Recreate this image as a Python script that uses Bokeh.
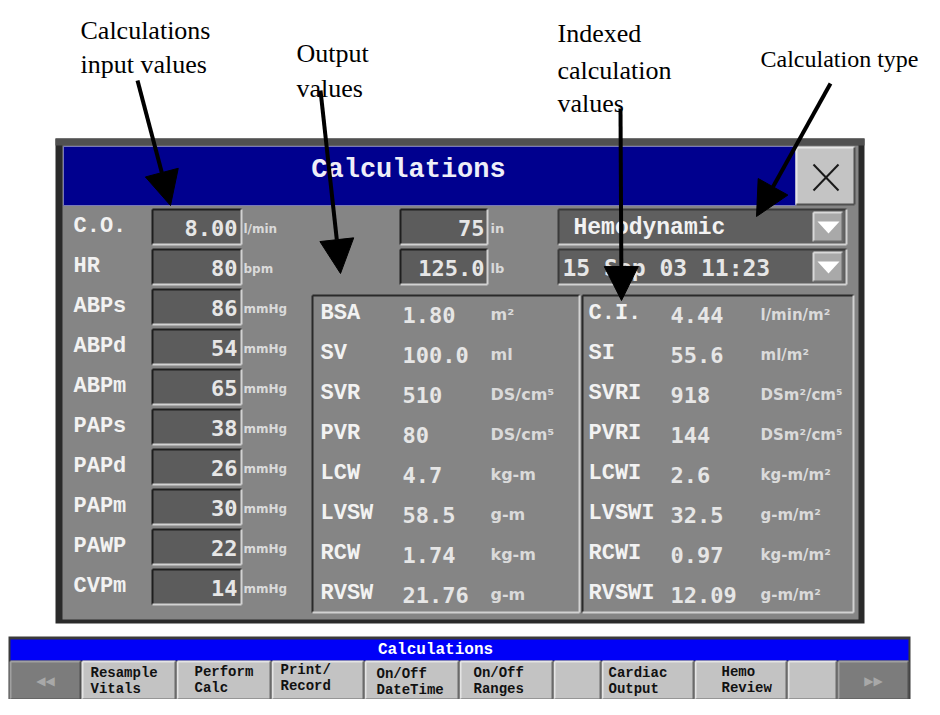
from bokeh.plotting import figure
from bokeh.models import Range1d, Arrow, NormalHead
from bokeh.core.properties import value
from bokeh.embed import file_html
from bokeh.resources import INLINE

# ---------------- data ----------------
input_labels = ["C.O.", "HR", "ABPs", "ABPd", "ABPm", "PAPs", "PAPd", "PAPm", "PAWP", "CVPm"]
input_values = ["8.00", "80", "86", "54", "65", "38", "26", "30", "22", "14"]
input_units = ["l/min", "bpm", "mmHg", "mmHg", "mmHg", "mmHg", "mmHg", "mmHg", "mmHg", "mmHg"]

body_values = ["75", "125.0"]
body_units = ["in", "lb"]
calc_type = "Hemodynamic"
date_time = "15 Sep 03 11:23"

output_labels = ["BSA", "SV", "SVR", "PVR", "LCW", "LVSW", "RCW", "RVSW"]
output_values = ["1.80", "100.0", "510", "80", "4.7", "58.5", "1.74", "21.76"]
output_units = ["m²", "ml", "DS/cm⁵", "DS/cm⁵", "kg-m", "g-m", "kg-m", "g-m"]

indexed_labels = ["C.I.", "SI", "SVRI", "PVRI", "LCWI", "LVSWI", "RCWI", "RVSWI"]
indexed_values = ["4.44", "55.6", "918", "144", "2.6", "32.5", "0.97", "12.09"]
indexed_units = ["l/min/m²", "ml/m²", "DSm²/cm⁵", "DSm²/cm⁵", "kg-m/m²", "g-m/m²", "kg-m/m²", "g-m/m²"]

window_title = "Calculations"
bar_title = "Calculations"
button_line1 = ["Resample", "Perform", "Print/", "On/Off", "On/Off", "", "Cardiac", "Hemo", ""]
button_line2 = ["Vitals", "Calc", "Record", "DateTime", "Ranges", "", "Output", "Review", ""]

callout_lines = ["Calculations", "input values", "Output", "values", "Indexed", "calculation", "values"]
callout_type = "Calculation type"

# ---------------- layout (pixel positions of the screen) ----------------
callout_x = [80, 80, 296, 296, 557, 557, 557]
callout_y = [30, 64, 53, 88, 33, 70, 103]
arrow_tail_x = [137, 320, 620, 830]
arrow_tail_y = [80, 90, 108, 83]
arrow_tip_x = [170, 340, 621, 756]
arrow_tip_y = [205, 273, 300, 216]

in_row_y = [226 + 40 * i for i in range(len(input_labels))]
out_row_y = [313 + 40 * i for i in range(len(output_labels))]
btn_left = [82, 177, 272, 365, 460, 554, 602, 695, 788]
btn_right = [175, 270, 363, 458, 552, 600, 693, 786, 836]
btn_text_x = [90, 194, 280, 376, 473, 0, 608, 721, 0]
btn_y1 = [672, 671, 669, 673, 672, 0, 672, 671, 0]
btn_y2 = [688, 687, 685, 689, 688, 0, 688, 687, 0]
BAR_TOP, BLUE_TOP, BLUE_BOT, BTN_TOP, BAR_BOT = 636, 639, 660, 661, 699

PANEL = "#858585"
BOXFILL = "#5c5c5c"
DARK = "#1e1e1e"
LIGHT = "#d2d2d2"
WHITE = "#f2f2f2"

p = figure(width=924, height=699, x_range=Range1d(0, 924), y_range=Range1d(699, 0),
           output_backend="svg", toolbar_location=None, min_border=0,
           x_axis_location=None, y_axis_location=None)
p.grid.visible = False
p.outline_line_color = None
p.background_fill_color = "white"
p.border_fill_color = "white"


def bevel(l, r, t, b, fill, tl, br, w=2):
    p.quad(left=l, right=r, top=t, bottom=b, fill_color=fill, line_color=None)
    p.segment(x0=l + l, y0=t + t, x1=r + l, y1=t + b, line_color=tl, line_width=w)
    p.segment(x0=l + r, y0=b + t, x1=r + r, y1=b + b, line_color=br, line_width=w)


def texts(xs, ys, strs, font, size, color, align="left", style="normal", baseline="middle"):
    p.text(x=xs, y=ys, text=strs, text_font=value(font), text_font_size=f"{size}px",
           text_color=color, text_align=align, text_baseline=baseline, text_font_style=style)


# ---------------- main window ----------------
p.quad(left=[55], right=[864], top=[138], bottom=[623], fill_color="#2a2a2a", line_color=None)
p.quad(left=[55], right=[864], top=[138], bottom=[145], fill_color="#505050", line_color=None)
p.quad(left=[62], right=[858], top=[145], bottom=[619], fill_color=PANEL, line_color=None)
# title bar
p.quad(left=[63], right=[795], top=[146], bottom=[205], fill_color="#00008e", line_color="#7878b8", line_width=1)
texts([408], [169], [window_title], "Liberation Mono", 27, "#eeeef8", align="center", style="bold")
# close button
bevel([796], [854], [147], [204], "#c4c4c4", "#e6e6e6", "#505050")
p.segment(x0=[813, 813], y0=[164, 190], x1=[838, 838], y1=[190, 164], line_color="#1a1a1a", line_width=2)

# input boxes
n_in = len(input_labels)
bevel([152] * n_in, [241] * n_in, [y - 17 for y in in_row_y], [y + 18 for y in in_row_y],
      BOXFILL, DARK, LIGHT)
texts([73] * n_in, in_row_y, input_labels, "Liberation Mono", 22, WHITE, style="bold")
texts([237] * n_in, [y + 1 for y in in_row_y], input_values, "DejaVu Sans Mono", 22, "#e6e6e6",
      align="right", style="bold")
texts([243] * n_in, [y + 2 for y in in_row_y], input_units, "DejaVu Sans", 12, "#dadada", style="bold")

# height / weight boxes
bevel([400, 400], [487, 487], [in_row_y[0] - 17, in_row_y[1] - 17],
      [in_row_y[0] + 18, in_row_y[1] + 18], BOXFILL, DARK, LIGHT)
texts([484, 484], [in_row_y[0] + 1, in_row_y[1] + 1], body_values, "DejaVu Sans Mono", 22, "#e6e6e6",
      align="right", style="bold")
texts([490, 490], [in_row_y[0] + 2, in_row_y[1] + 2], body_units, "DejaVu Sans", 13, "#dadada", style="bold")

# dropdowns
bevel([558, 558], [846, 846], [in_row_y[0] - 17, in_row_y[1] - 17], [in_row_y[0] + 18, in_row_y[1] + 18],
      "#5f5f5f", "#3a3a3a", LIGHT)
bevel([813, 813], [842, 842], [in_row_y[0] - 14, in_row_y[1] - 14], [in_row_y[0] + 15, in_row_y[1] + 15],
      "#a9a9a9", "#d8d8d8", "#6a6a6a")
p.patches(xs=[[817, 839, 828], [817, 839, 828]],
          ys=[[in_row_y[0] - 5, in_row_y[0] - 5, in_row_y[0] + 7], [in_row_y[1] - 5, in_row_y[1] - 5, in_row_y[1] + 7]],
          fill_color="white", line_color=None)
texts([573], [in_row_y[0] + 1], [calc_type], "Liberation Mono", 23, WHITE, style="bold")
texts([562], [in_row_y[1] + 1], [date_time], "DejaVu Sans Mono", 23, "#e6e6e6", style="bold")

# output and indexed panels
bevel([312, 582], [579, 853], [295, 295], [612, 612], PANEL, "#2a2a2a", LIGHT)
n_out = len(output_labels)
texts([320] * n_out, out_row_y, output_labels, "Liberation Mono", 22, WHITE, style="bold")
texts([402] * n_out, [y + 1 for y in out_row_y], output_values, "DejaVu Sans Mono", 22, "#e6e6e6", style="bold")
texts([490] * n_out, [y + 1 for y in out_row_y], output_units, "DejaVu Sans", 16, "#dadada", style="bold")
texts([588] * n_out, out_row_y, indexed_labels, "Liberation Mono", 22, WHITE, style="bold")
texts([670] * n_out, [y + 1 for y in out_row_y], indexed_values, "DejaVu Sans Mono", 22, "#e6e6e6", style="bold")
texts([760] * n_out, [y + 1 for y in out_row_y], indexed_units, "DejaVu Sans", 15, "#dadada", style="bold")

# ---------------- bottom button bar ----------------
p.quad(left=[8], right=[910], top=[BAR_TOP], bottom=[BAR_BOT], fill_color="#3a3a3a", line_color=None)
p.quad(left=[10], right=[908], top=[BLUE_TOP], bottom=[BLUE_BOT], fill_color="#0000f8", line_color=None)
texts([435], [(BLUE_TOP + BLUE_BOT) / 2], [bar_title], "Liberation Mono", 16, "white", align="center", style="bold")
p.quad(left=[10], right=[908], top=[BTN_TOP], bottom=[BAR_BOT], fill_color="#5a5a5a", line_color=None)
bevel([10, 838], [80, 908], [BTN_TOP, BTN_TOP], [BAR_BOT, BAR_BOT], "#7c7c7c", "#a0a0a0", "#505050")
n_btn = len(btn_left)
bevel(btn_left, btn_right, [BTN_TOP] * n_btn, [BAR_BOT] * n_btn, "#c3c3c3", "#e4e4e4", "#6a6a6a")
texts([45, 873], [(BTN_TOP + BAR_BOT) / 2] * 2, ["◀◀", "▶▶"], "DejaVu Sans", 12, "#a8a8a8", align="center")
idx = [i for i in range(n_btn) if button_line1[i]]
texts([btn_text_x[i] for i in idx], [btn_y1[i] for i in idx], [button_line1[i] for i in idx],
      "Liberation Mono", 14, "#111111", style="bold")
texts([btn_text_x[i] for i in idx], [btn_y2[i] for i in idx], [button_line2[i] for i in idx],
      "Liberation Mono", 14, "#111111", style="bold")

# ---------------- callouts ----------------
texts(callout_x, callout_y, callout_lines, "Liberation Serif", 26, "black", baseline="alphabetic")
texts([760], [58], [callout_type], "Liberation Serif", 24, "black", baseline="alphabetic")
for x0, y0, x1, y1 in zip(arrow_tail_x, arrow_tail_y, arrow_tip_x, arrow_tip_y):
    p.add_layout(Arrow(end=NormalHead(size=34, fill_color="black", line_color="black"),
                       x_start=x0, y_start=y0, x_end=x1, y_end=y1,
                       line_color="black", line_width=4))

open("out.html", "w").write(file_html(p, INLINE))
